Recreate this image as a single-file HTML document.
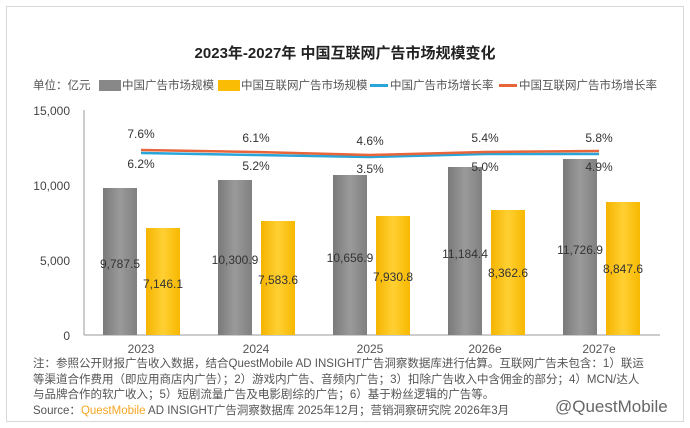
<!DOCTYPE html>
<html><head><meta charset="utf-8"><style>
body{margin:0;background:#fff;width:690px;height:428px;overflow:hidden;font-family:"Liberation Sans","Noto Sans CJK SC",sans-serif;}
.card{position:absolute;left:6px;top:6px;width:676px;height:414px;border:1px solid #d8d8d8;background:#fff;}
svg{position:absolute;left:0;top:0}
.note{position:absolute;left:33px;top:357px;font-size:11.5px;line-height:15.5px;color:#555;white-space:nowrap}
</style></head><body>
<div class="card"></div>
<svg width="690" height="428" font-family="Liberation Sans,Noto Sans CJK SC,sans-serif">
<defs>
<linearGradient id="g" x1="0" x2="1"><stop offset="0" stop-color="#7a7a7a"/><stop offset=".5" stop-color="#9a9a9a"/><stop offset="1" stop-color="#808080"/></linearGradient>
<linearGradient id="y" x1="0" x2="1"><stop offset="0" stop-color="#f5b400"/><stop offset=".5" stop-color="#ffd033"/><stop offset="1" stop-color="#f7b800"/></linearGradient>
</defs>
<text x="345" y="58" text-anchor="middle" font-size="15" font-weight="bold" fill="#222">2023年-2027年 中国互联网广告市场规模变化</text>
<g font-size="11.5" fill="#555">
<text x="33" y="89">单位：亿元</text>
<rect x="99" y="80" width="22" height="11" fill="#888"/><text x="122" y="89">中国广告市场规模</text>
<rect x="218" y="80" width="22" height="11" fill="#fbbc05"/><text x="241" y="89">中国互联网广告市场规模</text>
<rect x="370" y="84" width="18" height="3" fill="#2aa5d8"/><text x="390" y="89">中国广告市场增长率</text>
<rect x="499" y="84" width="18" height="3" fill="#e8653a"/><text x="519" y="89">中国互联网广告市场增长率</text>
</g>
<g font-size="12" fill="#444" text-anchor="end">
<text x="70" y="115">15,000</text><text x="70" y="190">10,000</text><text x="70" y="265">5,000</text><text x="70" y="340">0</text>
</g>
<line x1="84" y1="110" x2="84" y2="335" stroke="#999"/>
<line x1="84" y1="335" x2="660" y2="335" stroke="#999"/>
<g>
<rect x="103" y="188" width="34" height="147" fill="url(#g)"/>
<rect x="146" y="228" width="34" height="107" fill="url(#y)"/>
<rect x="218" y="180" width="34" height="155" fill="url(#g)"/>
<rect x="261" y="221" width="34" height="114" fill="url(#y)"/>
<rect x="333" y="175" width="34" height="160" fill="url(#g)"/>
<rect x="376" y="216" width="34" height="119" fill="url(#y)"/>
<rect x="448" y="167" width="34" height="168" fill="url(#g)"/>
<rect x="491" y="210" width="34" height="125" fill="url(#y)"/>
<rect x="563" y="159" width="34" height="176" fill="url(#g)"/>
<rect x="606" y="202" width="34" height="133" fill="url(#y)"/>
</g>
<polyline points="141,153 256,155 370,157 485,154 599,154" fill="none" stroke="#2aa5d8" stroke-width="2.5"/>
<polyline points="141,150 256,152 370,155 485,152 599,151" fill="none" stroke="#e8653a" stroke-width="2.5"/>
<g font-size="12" fill="#333" text-anchor="middle">
<text x="141" y="138">7.6%</text><text x="256" y="142">6.1%</text><text x="370" y="145">4.6%</text><text x="485" y="142">5.4%</text><text x="599" y="142">5.8%</text>
<text x="141" y="168">6.2%</text><text x="256" y="170">5.2%</text><text x="370" y="173">3.5%</text><text x="485" y="171">5.0%</text><text x="599" y="171">4.9%</text>
<text x="120" y="268">9,787.5</text><text x="163" y="288">7,146.1</text>
<text x="235" y="264">10,300.9</text><text x="278" y="284">7,583.6</text>
<text x="350" y="262">10,656.9</text><text x="393" y="281">7,930.8</text>
<text x="465" y="258">11,184.4</text><text x="508" y="277">8,362.6</text>
<text x="580" y="254">11,726.9</text><text x="623" y="273">8,847.6</text>
</g>
<g font-size="12" fill="#555" text-anchor="middle">
<text x="141" y="353">2023</text><text x="256" y="353">2024</text><text x="370" y="353">2025</text><text x="485" y="353">2026e</text><text x="599" y="353">2027e</text>
</g>
<text x="555" y="412" font-size="17" fill="#666">@QuestMobile</text>
</svg>
<div class="note">注：参照公开财报广告收入数据，结合QuestMobile AD INSIGHT广告洞察数据库进行估算。互联网广告未包含：1）联运<br>等渠道合作费用（即应用商店内广告）；2）游戏内广告、音频内广告；3）扣除广告收入中含佣金的部分；4）MCN/达人<br>与品牌合作的软广收入；5）短剧流量广告及电影剧综的广告；6）基于粉丝逻辑的广告等。<br>Source：<span style="color:#f5a623">QuestMobile</span> AD INSIGHT广告洞察数据库 2025年12月；营销洞察研究院 2026年3月</div>
</body></html>
